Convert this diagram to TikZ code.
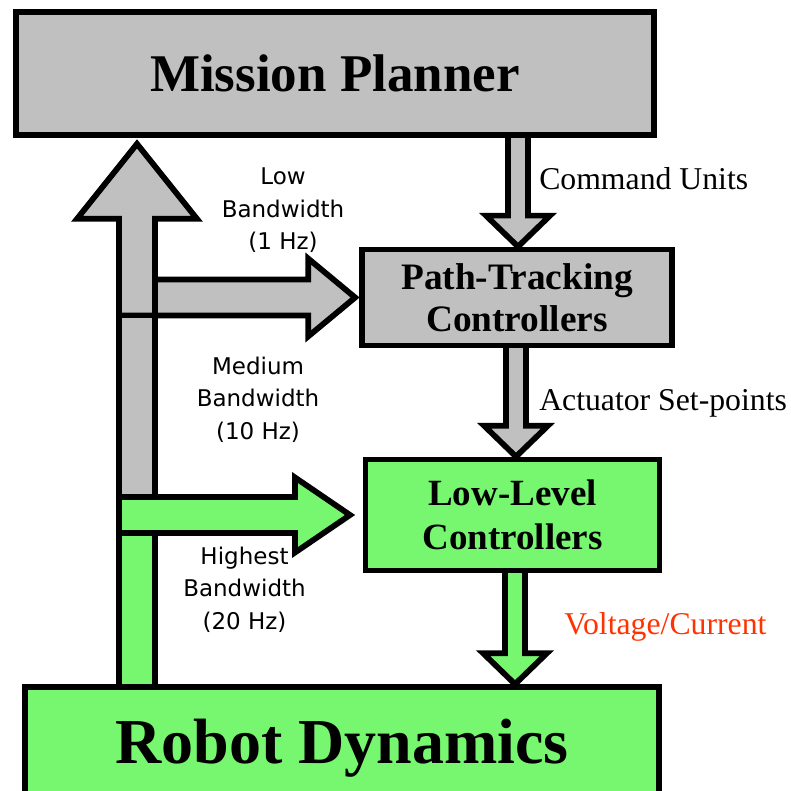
\documentclass[tikz,border=0pt]{standalone}
\usepackage{fontspec}
\setmainfont{Liberation Serif}
\newfontfamily\labelsans{DejaVu Sans}
\usetikzlibrary{calc}
\pgfdeclarelayer{bg}
\pgfsetlayers{bg,main}
\definecolor{boxgray}{RGB}{192,192,192}
\definecolor{boxgreen}{RGB}{119,246,111}
\definecolor{voltred}{RGB}{255,51,0}

% vertical block arrow: style, source node, target node, x position (coordinate name)
\newcommand\blockdown[4]{%
  \filldraw[#1] ($(#2.center -| #4)+(-10,0)$) -- ($(#3.north -| #4)+(-10,-31)$)
    -- ($(#3.north -| #4)+(-32,-31)$) -- (#3.north -| #4)
    -- ($(#3.north -| #4)+(32,-31)$) -- ($(#3.north -| #4)+(10,-31)$)
    -- ($(#2.center -| #4)+(10,0)$);}

\begin{document}
\begin{tikzpicture}[x=0.75pt,y=-0.75pt,line width=4.3pt,line join=miter,miter limit=10,
  blockbox/.style={draw=black,line width=4.3pt,inner sep=0pt,align=center},
  grayblock/.style={draw=black,fill=boxgray,line width=4.3pt,line join=miter,miter limit=10},
  greenblock/.style={draw=black,fill=boxgreen,line width=4.3pt,line join=miter,miter limit=10},
  bwlabel/.style={inner sep=0pt,align=center,font=\labelsans\fontsize{17.25}{24.4}\selectfont},
  sidelabel/.style={inner sep=0pt,anchor=base west,font=\fontsize{23.8}{28}\selectfont}]

\useasboundingbox (0,0) rectangle (791,791);
\clip (0,0) rectangle (791,791);

% blocks
\node[blockbox,fill=boxgray,minimum width=638*0.75pt,minimum height=123*0.75pt,
      font=\bfseries\fontsize{39.75}{44}\selectfont] (mp) at (335,73.5) {Mission Planner};
\node[blockbox,fill=boxgray,minimum width=310*0.75pt,minimum height=96*0.75pt,
      font=\bfseries\fontsize{28}{31.3}\selectfont] (pt) at (517,297.5) {Path-Tracking\\Controllers};
\node[blockbox,fill=boxgreen,minimum width=294*0.75pt,minimum height=111*0.75pt,
      font=\bfseries\fontsize{27.75}{33}\selectfont] (ll) at (512.5,515) {Low-Level\\Controllers};
\node[blockbox,fill=boxgreen,minimum width=634*0.75pt,minimum height=122*0.75pt,
      font=\bfseries\fontsize{48}{52}\selectfont] (rd) at (342,748) {Robot Dynamics};

% x positions of the arrows
\coordinate (spine) at (137,0);
\coordinate (cmdx) at (518,0);
\coordinate (actx) at (516,0);
\coordinate (voltx) at (515,0);

\begin{pgfonlayer}{bg}
  % feedback branch into the path-tracking controllers
  \filldraw[grayblock] ($(pt.west -| spine)+(-18,-18)$) -- ($(pt.west)+(-51,-18)$)
    -- ($(pt.west)+(-51,-39)$) -- ($(pt.west)+(-4,0)$) -- ($(pt.west)+(-51,39)$)
    -- ($(pt.west)+(-51,18)$) -- ($(pt.west -| spine)+(-18,18)$) -- cycle;
  % feedback up to the mission planner
  \filldraw[grayblock] ($(pt.west -| spine)+(-18,18)$) -- ($(mp.south -| spine)+(-18,81)$)
    -- ($(mp.south -| spine)+(-60,81)$) -- ($(mp.south -| spine)+(0,6)$)
    -- ($(mp.south -| spine)+(60,81)$) -- ($(mp.south -| spine)+(18,81)$)
    -- ($(pt.west -| spine)+(18,18)$) -- cycle;
  % middle part of the feedback trunk
  \filldraw[grayblock] ($(pt.west -| spine)+(-18,18)$) rectangle ($(ll.west -| spine)+(18,-18)$);
  % feedback branch into the low-level controllers
  \filldraw[greenblock] ($(ll.west -| spine)+(-18,-18)$) -- ($(ll.west)+(-67.6,-18)$)
    -- ($(ll.west)+(-67.6,-37.5)$) -- ($(ll.west)+(-12.6,0)$) -- ($(ll.west)+(-67.6,37.5)$)
    -- ($(ll.west)+(-67.6,18)$) -- ($(ll.west -| spine)+(-18,18)$) -- cycle;
  % trunk leaving the robot dynamics
  \filldraw[greenblock] ($(ll.west -| spine)+(-18,18)$) rectangle ($(rd.center -| spine)+(18,0)$);

  % forward path
  \blockdown{grayblock}{mp}{pt}{cmdx}
  \blockdown{grayblock}{pt}{ll}{actx}
  \blockdown{greenblock}{ll}{rd}{voltx}
\end{pgfonlayer}

% rates of the feedback paths
\node[bwlabel] (bwlow) at (283,210.6) {Low\\Bandwidth\\(1 Hz)};
\node[bwlabel] (bwmed) at (258,399.4) {Medium\\Bandwidth\\(10 Hz)};
\node[bwlabel] (bwhigh) at (244.5,589.4) {Highest\\Bandwidth\\(20 Hz)};

% signals of the forward path
\node[sidelabel] (cmdlbl) at (539,190) {Command Units};
\node[sidelabel] (actlbl) at (539,410) {Actuator Set-points};
\node[sidelabel,text=voltred] (voltlbl) at (564,634) {Voltage/Current};
\end{tikzpicture}
\end{document}
